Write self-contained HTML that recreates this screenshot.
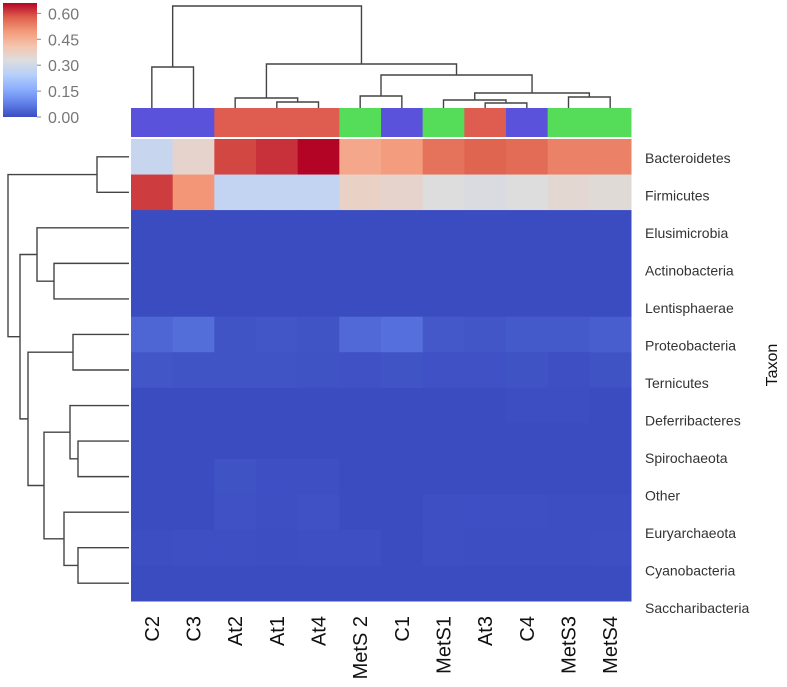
<!DOCTYPE html>
<html><head><meta charset="utf-8"><style>
html,body{margin:0;padding:0;background:#fff;}
svg{display:block;font-family:"Liberation Sans",Arial,sans-serif;}
</style></head><body>
<svg id="c" width="787" height="687"></svg>
<script>
const cols=["C2","C3","At2","At1","At4","MetS 2","C1","MetS1","At3","C4","MetS3","MetS4"];
const rows=["Bacteroidetes","Firmicutes","Elusimicrobia","Actinobacteria","Lentisphaerae","Proteobacteria","Ternicutes","Deferribacteres","Spirochaeota","Other","Euryarchaeota","Cyanobacteria","Saccharibacteria"];
const groups=["C","C","At","At","At","MetS","C","MetS","At","C","MetS","MetS"];
const v_bacteroidetes=[0.28,0.36,0.60,0.62,0.66,0.47,0.49,0.55,0.57,0.56,0.53,0.53];
const v_firmicutes=[0.61,0.50,0.27,0.27,0.27,0.37,0.36,0.33,0.32,0.33,0.35,0.34];
const v_elusimicrobia=[0,0,0,0,0,0,0,0,0,0,0,0];
const v_actinobacteria=[0,0,0,0,0,0,0,0,0,0,0,0];
const v_lentisphaerae=[0,0,0,0,0,0,0,0,0,0,0,0];
const v_proteobacteria=[0.04,0.05,0.012,0.016,0.012,0.045,0.055,0.018,0.016,0.02,0.02,0.028];
const v_ternicutes=[0.015,0.012,0.012,0.012,0.01,0.008,0.012,0.008,0.008,0.01,0.005,0.01];
const v_deferribacteres=[0,0,0,0,0,0,0,0,0,0.003,0.003,0];
const v_spirochaeota=[0,0,0,0,0,0,0,0,0,0,0,0];
const v_other=[0,0,0.01,0.005,0.005,0,0,0,0,0,0,0];
const v_euryarchaeota=[0,0,0.008,0.005,0.008,0,0,0.005,0.005,0.005,0.003,0.003];
const v_cyanobacteria=[0.003,0.005,0.005,0.003,0.005,0.005,0,0.005,0.003,0.003,0.003,0.005];
const v_saccharibacteria=[0,0,0,0,0,0,0,0,0,0,0,0];
const values=[v_bacteroidetes,v_firmicutes,v_elusimicrobia,v_actinobacteria,v_lentisphaerae,v_proteobacteria,v_ternicutes,v_deferribacteres,v_spirochaeota,v_other,v_euryarchaeota,v_cyanobacteria,v_saccharibacteria];
const cbTicks=[0,0.15,0.30,0.45,0.60];
const cbTickLabels=["0.00","0.15","0.30","0.45","0.60"];
const groupColors={C:"#5b52dc",At:"#df5c50",MetS:"#55dc58"};

const NS="http://www.w3.org/2000/svg";
const svg=document.getElementById("c");
function mk(t,a,parent){const e=document.createElementNS(NS,t);for(const k in a)e.setAttribute(k,a[k]);(parent||svg).appendChild(e);return e;}
const X0=131,X1=631,Y0=139,Y1=601,vmax=0.66;
const cw=(X1-X0)/cols.length, rh=(Y1-Y0)/rows.length;
const xC=i=>X0+cw*(i+0.5), yR=j=>Y0+rh*(j+0.5);
const stops=[[59,76,192],[98,130,234],[141,176,254],[184,208,249],[221,221,221],[245,196,173],[244,154,123],[222,96,77],[180,4,38]];
function cmap(v){let t=Math.max(0,Math.min(1,v/vmax))*8;let i=Math.min(7,Math.floor(t)),f=t-i;const a=stops[i],b=stops[i+1];return `rgb(${a.map((x,k)=>Math.round(x+(b[k]-x)*f)).join(",")})`;}

const hm=mk("g",{});


values.forEach((row,j)=>row.forEach((v,i)=>{
  const r=mk("rect",{x:X0+cw*i,y:Y0+rh*j,width:cw+0.5,height:rh+0.5,fill:cmap(v)},hm);
  
  
}));
const an=mk("g",{});


groups.forEach((g,i)=>{
  const r=mk("rect",{x:X0+cw*i,y:108,width:cw+0.5,height:29,fill:groupColors[g]},an);
  
  
});
rows.forEach((n,j)=>{
  const t=mk("text",{x:645,y:163+37.5*j,"font-size":14,fill:"#333"});t.textContent=n;
  
  
});
cols.forEach((n,i)=>{
  const x=xC(i)+7;
  const t=mk("text",{x:x,y:616,"font-size":20,fill:"#111","text-anchor":"end",transform:`rotate(-90 ${x} 616)`});t.textContent=n;
  
  
});
const tx=mk("text",{x:777,y:365,"font-size":16,fill:"#111","text-anchor":"middle",transform:"rotate(-90 777 365)"});tx.textContent="Taxon";



const defs=mk("defs",{});
const lg=mk("linearGradient",{id:"cg",x1:0,y1:1,x2:0,y2:0},defs);
stops.forEach((s,k)=>mk("stop",{offset:k/8,"stop-color":`rgb(${s.join(",")})`},lg));
const cb=mk("rect",{x:3,y:3,width:34,height:114,fill:"url(#cg)"});


cbTicks.forEach((v,k)=>{
  const y=117-v/vmax*114;
  mk("line",{x1:37,x2:41,y1:y,y2:y,stroke:"#888","stroke-width":1});
  const t=mk("text",{x:48,y:y+6,"font-size":16,fill:"#777"});t.textContent=cbTickLabels[k];
  
  
});

const st={stroke:"#444","stroke-width":1.4,fill:"none"};
function link(d){const p=mk("path",Object.assign({d:d},st));}
function U(xa,ya,xb,yb,h){link(`M${xa},${ya}V${h}H${xb}V${yb}`);}
const L=108;
U(xC(0),L,xC(1),L,67);
U(xC(3),L,xC(4),L,102);
U(xC(2),L,(xC(3)+xC(4))/2,102,98);
U(xC(5),L,xC(6),L,96);
U(xC(8),L,xC(9),L,103);
U(xC(7),L,(xC(8)+xC(9))/2,103,100);
U(xC(10),L,xC(11),L,97);
const a=(xC(7)+(xC(8)+xC(9))/2)/2, b=(xC(10)+xC(11))/2;
U(a,100,b,97,93);
const c1=(xC(5)+xC(6))/2, c2=(a+b)/2;
U(c1,96,c2,93,75);
const d1=(xC(2)+(xC(3)+xC(4))/2)/2, d2=(c1+c2)/2;
U(d1,98,d2,75,64);
U((xC(0)+xC(1))/2,67,(d1+d2)/2,64,6);
function C(ya,xa,yb,xb,h){link(`M${xa},${ya}H${h}V${yb}H${xb}`);}
const R=129;
C(yR(0),R,yR(1),R,97);
C(yR(3),R,yR(4),R,54);
const m34=(yR(3)+yR(4))/2;
C(yR(2),R,m34,54,37);
const mA=(yR(2)+m34)/2;
C(yR(5),R,yR(6),R,73);
C(yR(8),R,yR(9),R,78);
const m89=(yR(8)+yR(9))/2;
C(yR(7),R,m89,78,70);
C(yR(11),R,yR(12),R,78);
const m1112=(yR(11)+yR(12))/2;
C(yR(10),R,m1112,78,64);
const mB=(yR(7)+m89)/2, mC=(yR(10)+m1112)/2;
C(mB,70,mC,64,44);
const m56=(yR(5)+yR(6))/2, mD=(mB+mC)/2;
C(m56,73,mD,44,28);
const mE=(m56+mD)/2;
C(mA,37,mE,28,20);
const mF=(mA+mE)/2;
C((yR(0)+yR(1))/2,97,mF,20,8);
</script>
</body></html>
